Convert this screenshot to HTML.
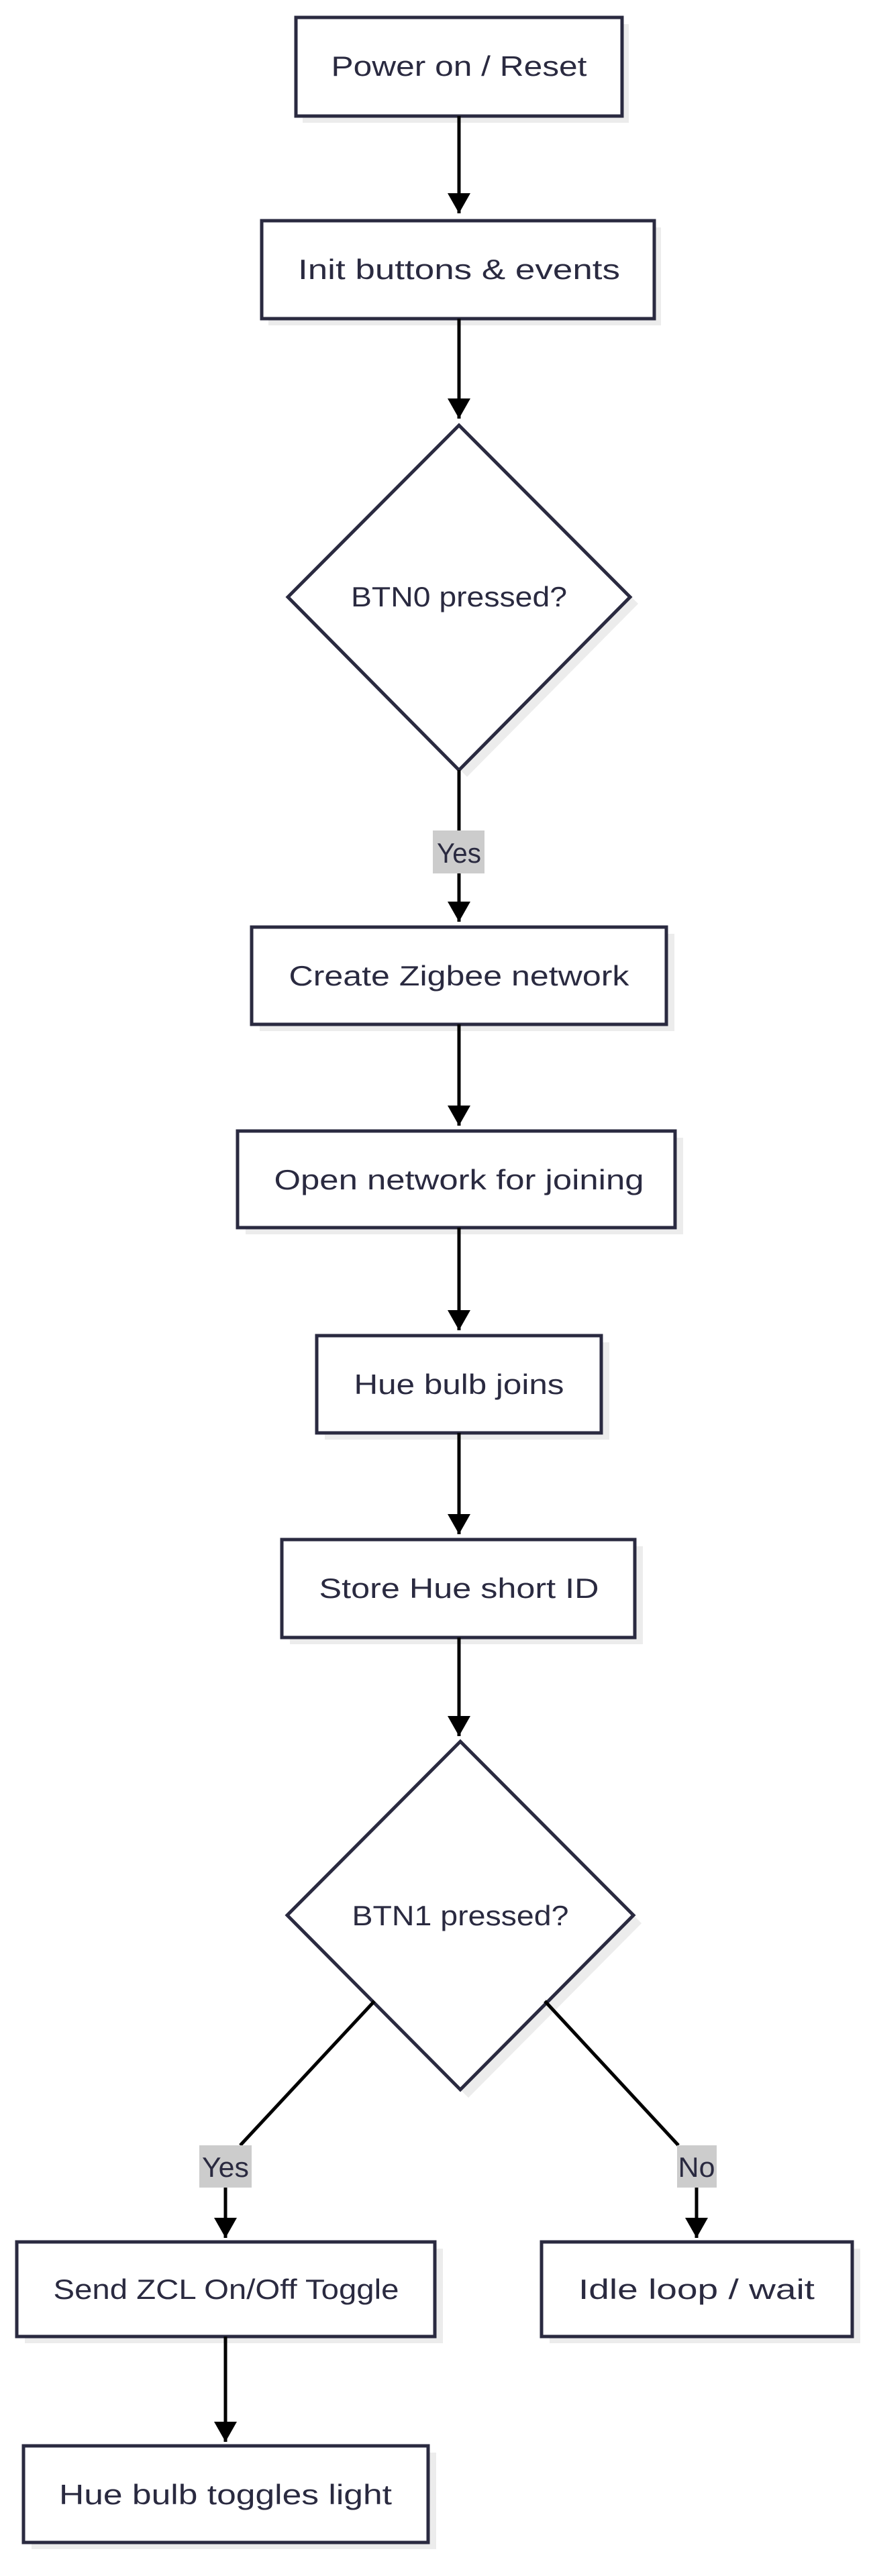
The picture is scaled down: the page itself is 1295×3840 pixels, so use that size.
<!DOCTYPE html>
<html><head><meta charset="utf-8"><style>
html,body{margin:0;padding:0;background:#fff;}
svg{display:block;}
text{font-family:"Liberation Sans",sans-serif;font-size:42px;fill:#2a2a40;}
</style></head><body>
<svg width="1295" height="3840" viewBox="0 0 1295 3840" xmlns="http://www.w3.org/2000/svg">
<defs>
<marker id="a" markerWidth="36" markerHeight="34" refX="30" refY="17" orient="auto" markerUnits="userSpaceOnUse" viewBox="0 0 36 34"><path d="M0,0L30,17L0,34z" fill="#000"/></marker>
</defs>
<g fill="#ececec">
<rect x="451" y="36" width="486" height="147"/>
<rect x="400" y="339" width="585" height="146"/>
<polygon points="696,644 951,900 696,1158 441,900"/>
<rect x="387" y="1392" width="618" height="145"/>
<rect x="366" y="1696" width="652" height="144"/>
<rect x="484" y="2001" width="424" height="145"/>
<rect x="432" y="2305" width="526" height="146"/>
<polygon points="698,2608 956,2867 698,3127 440,2867"/>
<rect x="37" y="3352" width="623" height="141"/>
<rect x="819" y="3352" width="463" height="141"/>
<rect x="47" y="3656" width="603" height="144"/>
</g>
<g fill="#fff" stroke="#2a2a40" stroke-width="5">
<rect x="441" y="26" width="486" height="147"/>
<rect x="390" y="329" width="585" height="146"/>
<polygon points="684,634 939,890 684,1148 429,890"/>
<rect x="375" y="1382" width="618" height="145"/>
<rect x="354" y="1686" width="652" height="144"/>
<rect x="472" y="1991" width="424" height="145"/>
<rect x="420" y="2295" width="526" height="146"/>
<polygon points="686,2596 944,2855 686,3115 428,2855"/>
<rect x="25" y="3342" width="623" height="141"/>
<rect x="807" y="3342" width="463" height="141"/>
<rect x="35" y="3646" width="603" height="144"/>
</g>
<g stroke="#000" stroke-width="5" fill="none">
<line x1="684" y1="173" x2="684" y2="318" marker-end="url(#a)"/>
<line x1="684" y1="475" x2="684" y2="624" marker-end="url(#a)"/>
<line x1="684" y1="1148" x2="684" y2="1240"/>
<line x1="684" y1="1300" x2="684" y2="1374" marker-end="url(#a)"/>
<line x1="684" y1="1527" x2="684" y2="1678" marker-end="url(#a)"/>
<line x1="684" y1="1830" x2="684" y2="1983" marker-end="url(#a)"/>
<line x1="684" y1="2136" x2="684" y2="2287" marker-end="url(#a)"/>
<line x1="684" y1="2441" x2="684" y2="2588" marker-end="url(#a)"/>
<polyline points="558,2983 358,3198"/>
<line x1="336" y1="3260" x2="336" y2="3336" marker-end="url(#a)"/>
<polyline points="812,2983 1011,3198"/>
<line x1="1038" y1="3260" x2="1038" y2="3336" marker-end="url(#a)"/>
<line x1="336" y1="3483" x2="336" y2="3640" marker-end="url(#a)"/>
</g>
<g fill="#cccccc">
<rect x="297" y="3198" width="78" height="63"/>
<rect x="645" y="1238" width="77" height="64"/>
<rect x="1009" y="3198" width="59" height="63"/>
</g>
<g text-anchor="middle">
<text x="684" y="113" textLength="381" lengthAdjust="spacingAndGlyphs">Power on / Reset</text>
<text x="684" y="416" textLength="480" lengthAdjust="spacingAndGlyphs">Init buttons &amp; events</text>
<text x="684" y="904" textLength="322" lengthAdjust="spacingAndGlyphs">BTN0 pressed?</text>
<text x="684" y="1286" textLength="66" lengthAdjust="spacingAndGlyphs">Yes</text>
<text x="684" y="1469" textLength="507" lengthAdjust="spacingAndGlyphs">Create Zigbee network</text>
<text x="684" y="1773" textLength="551" lengthAdjust="spacingAndGlyphs">Open network for joining</text>
<text x="684" y="2078" textLength="313" lengthAdjust="spacingAndGlyphs">Hue bulb joins</text>
<text x="684" y="2382" textLength="417" lengthAdjust="spacingAndGlyphs">Store Hue short ID</text>
<text x="686" y="2870" textLength="323" lengthAdjust="spacingAndGlyphs">BTN1 pressed?</text>
<text x="336" y="3245" textLength="70" lengthAdjust="spacingAndGlyphs">Yes</text>
<text x="1038" y="3245" textLength="55" lengthAdjust="spacingAndGlyphs">No</text>
<text x="337" y="3427" textLength="515" lengthAdjust="spacingAndGlyphs">Send ZCL On/Off Toggle</text>
<text x="1038" y="3427" textLength="352" lengthAdjust="spacingAndGlyphs">Idle loop / wait</text>
<text x="336" y="3733" textLength="496" lengthAdjust="spacingAndGlyphs">Hue bulb toggles light</text>
</g>
</svg>
</body></html>
